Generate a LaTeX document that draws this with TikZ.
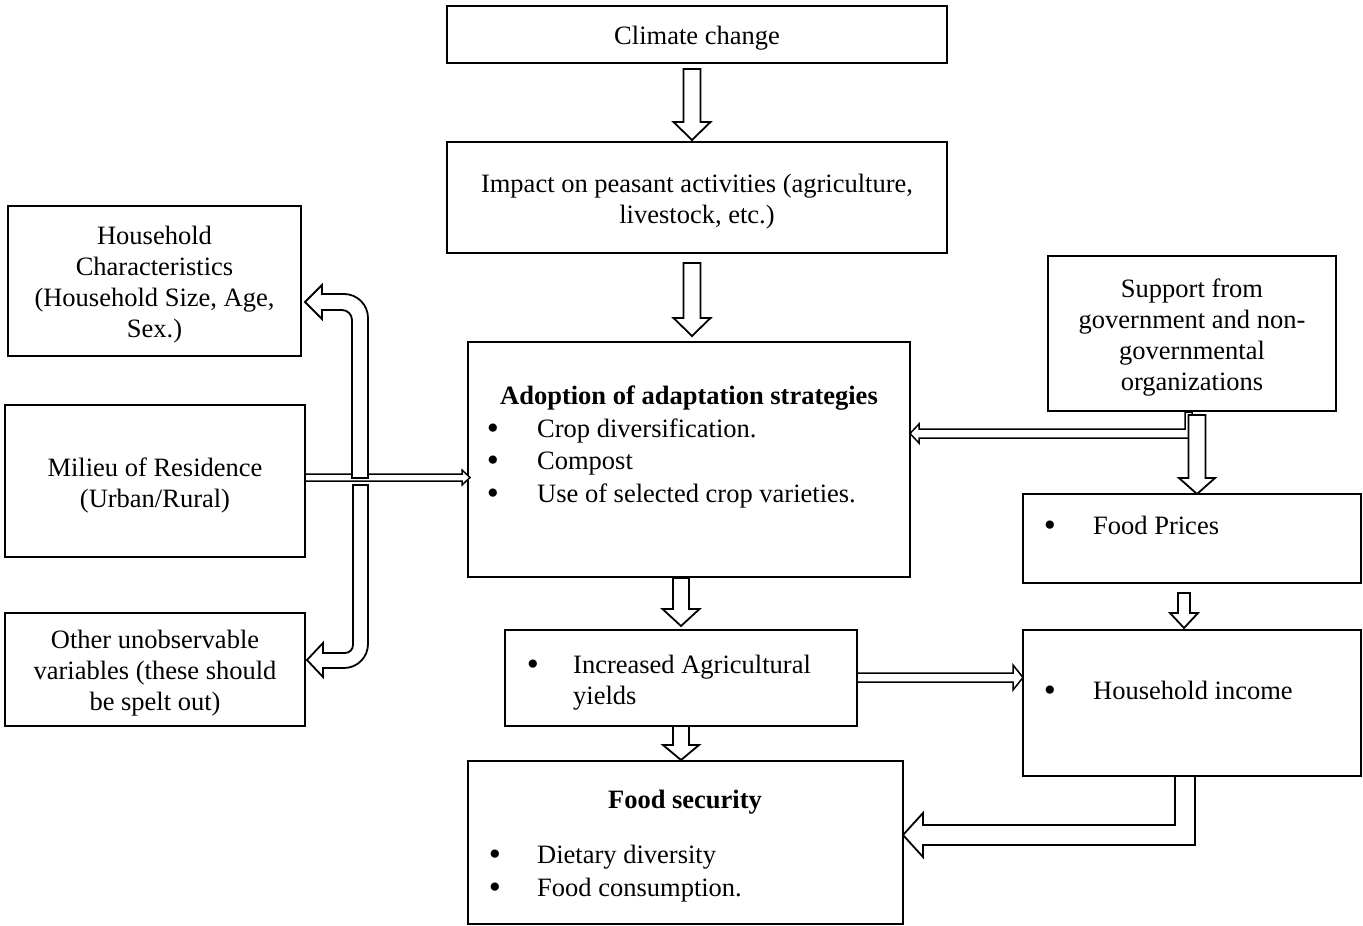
\documentclass[tikz,border=0pt]{standalone}
\usepackage{fontspec}
\usepackage{graphicx}
\setmainfont{Liberation Serif}
\newcommand\fsz{\fontsize{26.5}{31}\selectfont}
\newcommand\bul{\raisebox{-2pt}{\scalebox{1.3}{•}}}
\newcommand\dnarrow[6]{\draw[barrow] (#1-#4,#2) -- (#1-#4,#3-#6) -- (#1-#5,#3-#6) -- (#1,#3) -- (#1+#5,#3-#6) -- (#1+#4,#3-#6) -- (#1+#4,#2) -- cycle;}
\begin{document}
\begin{tikzpicture}[x=1pt,y=-1pt,
  box/.style={draw, line width=2pt, inner sep=0pt},
  txt/.style={inner sep=0pt, font=\fsz},
  ctxt/.style={inner sep=0pt, font=\fsz, align=center, yshift=-4pt},
  barrow/.style={draw, line width=1.8pt, fill=white, line join=miter},
  tarrow/.style={draw, line width=1.5pt, fill=white, line join=miter}]
\useasboundingbox (0,0) rectangle (1363,926);

% boxes
\node[box, minimum width=500pt, minimum height=57pt] (cc) at (697,34.5) {};
\node[box, minimum width=500pt, minimum height=111pt] (imp) at (697,197.5) {};
\node[box, minimum width=293pt, minimum height=150pt] (hc) at (154.5,281) {};
\node[box, minimum width=300pt, minimum height=152pt] (mil) at (155,481) {};
\node[box, minimum width=300pt, minimum height=113pt] (oth) at (155,669.5) {};
\node[box, minimum width=442pt, minimum height=235pt] (adp) at (689,459.5) {};
\node[box, minimum width=288pt, minimum height=155pt] (sup) at (1192,333.5) {};
\node[box, minimum width=338pt, minimum height=89pt] (fp) at (1192,538.5) {};
\node[box, minimum width=352pt, minimum height=96pt] (inc) at (681,678) {};
\node[box, minimum width=338pt, minimum height=146pt] (hhi) at (1192,703) {};
\node[box, minimum width=435pt, minimum height=163pt] (fs) at (685.5,842.5) {};

% centred texts
\node[ctxt] (cct) at (cc.center) {Climate change};
\node[ctxt] (impt) at (imp.center) {Impact on peasant activities (agriculture,\\livestock, etc.)};
\node[ctxt] (hct) at (hc.center) {Household\\Characteristics\\(Household Size, Age,\\Sex.)};
\node[ctxt] (milt) at (mil.center) {Milieu of Residence\\(Urban/Rural)};
\node[ctxt] (otht) at (oth.center) {Other unobservable\\variables (these should\\be spelt out)};
\node[ctxt] (supt) at (sup.center) {Support from\\government and non-\\governmental\\organizations};

% texts inside boxes
\node[txt, anchor=base, font=\fsz\bfseries] (adpt) at (689,404) {Adoption of adaptation strategies};
\node[txt, anchor=base] (b1) at (493,437) {\bul};
\node[txt, anchor=base west] (a1) at (537,437) {Crop diversification.};
\node[txt, anchor=base] (b2) at (493,469) {\bul};
\node[txt, anchor=base west] (a2) at (537,469) {Compost};
\node[txt, anchor=base] (b3) at (493,502) {\bul};
\node[txt, anchor=base west] (a3) at (537,502) {Use of selected crop varieties.};

\node[txt, anchor=base] (b4) at (1050,534) {\bul};
\node[txt, anchor=base west] (fpt) at (1093,534) {Food Prices};

\node[txt, anchor=base] (b5) at (533,673) {\bul};
\node[txt, anchor=base west] (inct1) at (573,673) {Increased Agricultural};
\node[txt, anchor=base west] (inct2) at (573,704) {yields};

\node[txt, anchor=base] (b6) at (1050,699) {\bul};
\node[txt, anchor=base west] (hhit) at (1093,699) {Household income};

\node[txt, anchor=base, font=\fsz\bfseries] (fst) at (685,808) {Food security};
\node[txt, anchor=base] (b7) at (495,863) {\bul};
\node[txt, anchor=base west] (f1) at (537,863) {Dietary diversity};
\node[txt, anchor=base] (b8) at (495,896) {\bul};
\node[txt, anchor=base west] (f2) at (537,896) {Food consumption.};

% thin arrows
\draw[tarrow] (305,474) -- (462,474) -- (462,470) -- (470,477.5) -- (462,485) -- (462,481) -- (305,481) -- cycle;
\draw[tarrow] (857,673) -- (1013,673) -- (1013,665) -- (1023,677.5) -- (1013,690) -- (1013,682) -- (857,682) -- cycle;
\draw[tarrow] (1185,412) -- (1185,429) -- (919,429) -- (919,424) -- (910,433.5) -- (919,443) -- (919,438) -- (1192,438) -- (1192,412) -- cycle;

% block arrows down
\dnarrow{692}{69}{140}{8.5}{18.5}{18}
\dnarrow{692}{263}{336}{8.5}{18.5}{18}
\dnarrow{681}{578}{626}{8}{18.5}{17}
\dnarrow{681}{726}{760}{8}{18}{15}
\dnarrow{1184}{593}{628}{6}{14}{15}
\dnarrow{1197}{415}{494}{8.5}{18}{16}

% bent arrows on the left
\draw[barrow] (352,478) -- (368,478) -- (368,318) .. controls (368,304.7) and (357.3,294) .. (344,294)
  -- (322,294) -- (322,285) -- (305,302) -- (322,319) -- (322,310) -- (342,310)
  .. controls (347.5,310) and (352,314.5) .. (352,320) -- cycle;
\draw[barrow] (353,485) -- (368,485) -- (368,644) .. controls (368,657.3) and (357.3,668) .. (344,668)
  -- (323,668) -- (323,677) -- (307,660) -- (323,643) -- (323,653) -- (345,653)
  .. controls (349.5,653) and (353,649.5) .. (353,645) -- cycle;

% bent arrow bottom right
\draw[barrow] (1175,776) -- (1175,825) -- (923,825) -- (923,813) -- (903,835) -- (923,857) -- (923,845) -- (1195,845) -- (1195,776) -- cycle;
\end{tikzpicture}
\end{document}
